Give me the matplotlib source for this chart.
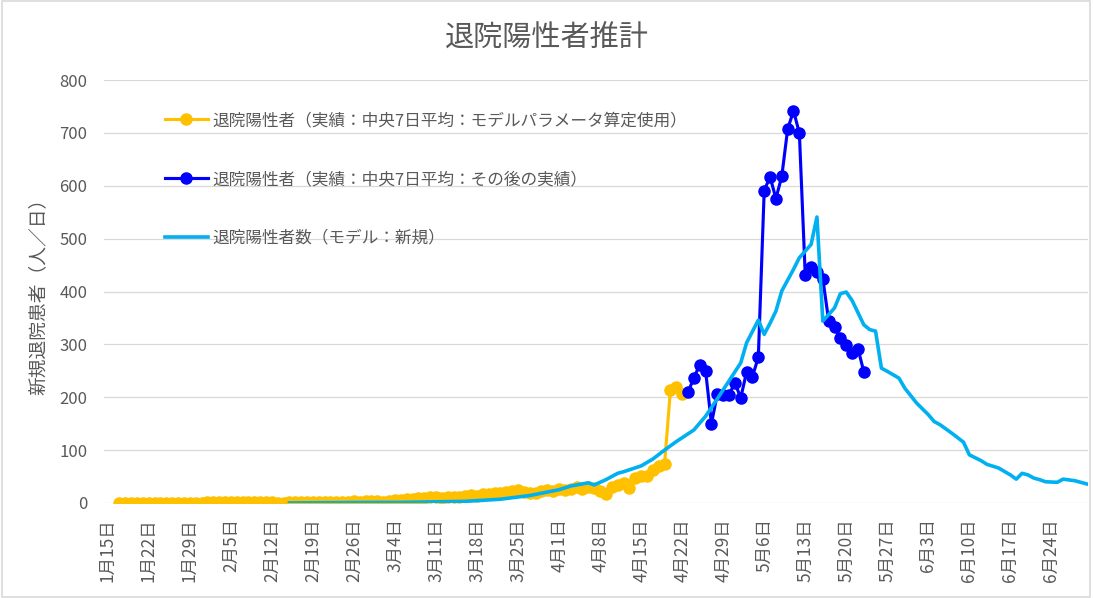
#!/usr/bin/python

# 退院陽性者推計 - recreated with matplotlib

import pandas as pd
import matplotlib
matplotlib.use('Agg')
import matplotlib.pyplot as plt
import matplotlib.dates as mdates
from matplotlib.patches import Rectangle

plt.rcParams['font.family'] = ['Noto Sans CJK JP', 'DejaVu Sans']

# actual (median 7-day avg), used for model parameters
yellow_start = '2020-01-17'
yellow_vals = [0, 0, 0, 0, 0, 0, 0, 0, 0, 0, 0, 0, 0, 0, 0,
               1, 1, 2, 1, 1, 2, 2, 1, 1, 2, 1, 1,
               0, 0,
               1, 2, 2, 1, 2, 2, 2, 1, 2, 2, 2, 3, 2, 3, 4,
               3, 2, 4, 5, 6, 8, 7,
               9, 10, 12, 11, 10, 12, 11,
               12, 14, 15, 14, 16, 17, 19,
               18, 20, 22, 24, 21, 18, 19,
               22, 24, 23, 26, 25, 27, 30,
               26, 30, 28, 22, 17, 31, 34,
               37, 28, 47, 50, 51, 63, 69, 74,
               213, 219, 207]

# actual (median 7-day avg), later results
blue_start = '2020-04-23'
blue_vals = [209, 237, 261, 250, 150, 206, 205, 205, 227, 199, 248, 239, 276,
             591, 617, 576, 618, 707, 742, 700, 432, 446, 436, 424,
             345, 332, 313, 298, 284, 292, 248]

# model (new)
model_dates = ['2020-02-15', '2020-02-29', '2020-03-05', '2020-03-16', '2020-03-22',
               '2020-03-27', '2020-04-01', '2020-04-03', '2020-04-06', '2020-04-07',
               '2020-04-09', '2020-04-11', '2020-04-12', '2020-04-15', '2020-04-17',
               '2020-04-19', '2020-04-21', '2020-04-24', '2020-04-26', '2020-04-28',
               '2020-05-02', '2020-05-03', '2020-05-05', '2020-05-06', '2020-05-07',
               '2020-05-08', '2020-05-09', '2020-05-11', '2020-05-12', '2020-05-14',
               '2020-05-15', '2020-05-16', '2020-05-18', '2020-05-19', '2020-05-20',
               '2020-05-21', '2020-05-22', '2020-05-23', '2020-05-24', '2020-05-25',
               '2020-05-26', '2020-05-27', '2020-05-29', '2020-05-30', '2020-06-01',
               '2020-06-03', '2020-06-04', '2020-06-05', '2020-06-07', '2020-06-09',
               '2020-06-10', '2020-06-12', '2020-06-13', '2020-06-15', '2020-06-17',
               '2020-06-18', '2020-06-19', '2020-06-20', '2020-06-21', '2020-06-22',
               '2020-06-23', '2020-06-25', '2020-06-26', '2020-06-28', '2020-06-30']
model_vals = [0, 1, 1, 3, 7,
              14, 25, 32, 38, 34,
              44, 56, 59, 70, 83,
              100, 116, 138, 164, 197,
              265, 303, 346, 319, 340,
              363, 401, 442, 464, 489,
              541, 344, 369, 396, 399,
              383, 360, 337, 328, 325,
              255, 249, 236, 217, 189,
              167, 154, 148, 132, 115,
              91, 80, 73, 66, 53,
              45, 56, 53, 47, 44,
              40, 39, 45, 42, 36]

labels = ['退院陽性者（実績：中央7日平均：モデルパラメータ算定使用）',
          '退院陽性者（実績：中央7日平均：その後の実績）',
          '退院陽性者数（モデル：新規）']

tick_start = '2020-01-15'
n_ticks = 24

gray = '#595959'

fig = plt.figure(figsize=(10.93, 5.98), dpi=100)
ax = fig.add_axes([0.095, 0.159, 0.9, 0.707])

xy = pd.date_range(yellow_start, periods=len(yellow_vals), freq='D')
xb = pd.date_range(blue_start, periods=len(blue_vals), freq='D')
xm = pd.to_datetime(model_dates)

ax.plot(xy, yellow_vals, color='#FFC000', lw=2.25, marker='o', ms=8, label=labels[0], zorder=3)
ax.plot(xb, blue_vals, color='#0000FF', lw=2.25, marker='o', ms=8, label=labels[1], zorder=4)
ax.plot(xm, model_vals, color='#00B0F0', lw=2.6, label=labels[2], zorder=5)

ax.set_ylim(0, 800)
ax.set_yticks(range(0, 801, 100))
ax.set_xlim(pd.Timestamp('2020-01-14 08:00'), pd.Timestamp('2020-06-30 04:00'))

ticks = pd.date_range(tick_start, periods=n_ticks, freq='7D')
ax.set_xticks(ticks)
ax.set_xticklabels([f'{t.month}月{t.day}日' for t in ticks], rotation=90)

ax.grid(axis='y', color='#D9D9D9', lw=0.9)
ax.set_axisbelow(True)
for s in ax.spines.values():
    s.set_visible(False)
ax.tick_params(axis='both', length=0, labelsize=12, labelcolor=gray)
ax.tick_params(axis='x', labelsize=12.5)
ax.tick_params(axis='y', pad=12)
ax.tick_params(axis='x', pad=11)

ax.set_ylabel('新規退院患者（人／日）', fontsize=13.5, color=gray)
ax.yaxis.set_label_coords(-0.056, 0.5)

fig.text(0.5, 0.936, '退院陽性者推計', ha='center', va='center', fontsize=21, color=gray)

leg = ax.legend(loc='upper left', bbox_to_anchor=(0.062, 0.924), frameon=False,
                fontsize=12, labelspacing=2.5, handlelength=2.6, handletextpad=0.25,
                borderpad=0, borderaxespad=0)
for t in leg.get_texts():
    t.set_color(gray)

fig.patches.append(Rectangle((0.0015, 0.0025), 0.9955, 0.995, transform=fig.transFigure,
                             fill=False, edgecolor='#D9D9D9', lw=1.2))

fig.savefig('out.png', dpi=100)
